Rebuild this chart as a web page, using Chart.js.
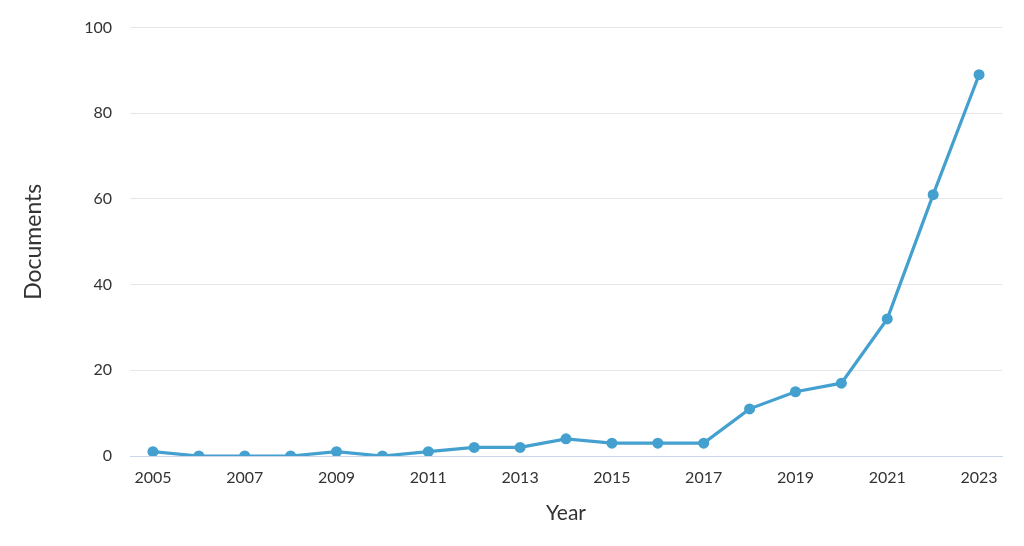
<!DOCTYPE html>
<html>
<head>
<meta charset="utf-8">
<script src="https://cdn.jsdelivr.net/npm/chart.js@4/dist/chart.umd.min.js"></script>
<style>
  html, body { margin: 0; padding: 0; background: #fff; }
  #wrap { width: 1024px; height: 546px; }
</style>
</head>
<body>
<div id="wrap"><canvas id="docsChart"></canvas></div>
<script>
let years = ['2005', '2006', '2007', '2008', '2009', '2010', '2011', '2012', '2013', '2014',
    '2015', '2016', '2017', '2018', '2019', '2020', '2021', '2022', '2023'];
let documents = [1, 0, 0, 0, 1, 0, 1, 2, 2, 4, 3, 3, 3, 11, 15, 17, 32, 61, 89];
let yTicks = [0, 20, 40, 60, 80, 100];

let lineColor = '#44a0cf';
let textColor = '#333333';
let fontFamily = 'Lato, "Open Sans", sans-serif';

const ctx = document.getElementById('docsChart');
const docsChart = new Chart(ctx, {
    type: 'line',
    data: {
        labels: years,
        datasets: [
            {
                label: 'Documents',
                data: documents,
                borderColor: lineColor,
                backgroundColor: lineColor,
                borderWidth: 3.2,
                pointRadius: 5.5,
                pointHoverRadius: 5.5,
                pointBorderWidth: 0,
                tension: 0
            }
        ]
    },
    options: {
        responsive: true,
        maintainAspectRatio: false,
        animation: false,
        layout: {
            padding: { left: 0, right: 22, top: 26, bottom: 20 }
        },
        plugins: {
            legend: { display: false },
            tooltip: { enabled: false }
        },
        scales: {
            x: {
                type: 'category',
                offset: true,
                grid: { display: false, drawTicks: false },
                border: { display: true, color: '#ccd6eb', width: 1 },
                ticks: {
                    autoSkip: false,
                    maxRotation: 0,
                    padding: 12,
                    color: textColor,
                    font: { family: fontFamily, size: 16 },
                    callback: function(value, index) {
                        return index % 2 === 0 ? years[index] : '';
                    }
                },
                title: {
                    display: true,
                    text: 'Year',
                    color: textColor,
                    font: { family: fontFamily, size: 21 },
                    padding: { top: 14, bottom: 0 }
                },
                afterFit: function(scale) {
                    scale.height = 70;
                }
            },
            y: {
                min: 0,
                max: 100,
                afterBuildTicks: function(scale) {
                    scale.ticks = yTicks.map(function(v) { return { value: v }; });
                },
                grid: { color: '#e6e6e6', drawTicks: false, lineWidth: 1 },
                border: { display: false },
                ticks: {
                    padding: 18,
                    color: textColor,
                    font: { family: fontFamily, size: 16 }
                },
                title: {
                    display: true,
                    text: 'Documents',
                    color: textColor,
                    font: { family: fontFamily, size: 23 },
                    padding: { top: 20, bottom: 0 }
                },
                afterFit: function(scale) {
                    scale.width = 130;
                }
            }
        }
    }
});
</script>
</body>
</html>
